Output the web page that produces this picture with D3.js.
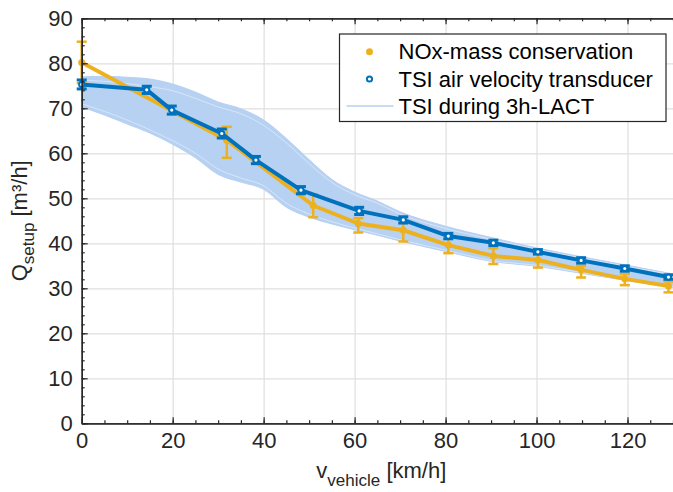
<!DOCTYPE html>
<html>
<head>
<meta charset="utf-8">
<script src="https://cdn.jsdelivr.net/npm/d3@7"></script>
<style>
  body { margin: 0; background: #fff; }
  svg { display: block; font-family: "Liberation Sans", Arial, sans-serif; }
  .axis path, .axis line { stroke: #262626; }
  .axis text { fill: #262626; font-size: 22px; }
  .grid line { stroke: #dfdfdf; stroke-width: 1.2; }
  .grid path { display: none; }
</style>
</head>
<body>
<div class="chart"></div>
<script>
// data
var nox_v  = [0, 31.9, 50.9, 60.8, 70.7, 80.6, 90.5, 100.3, 109.8, 119.4, 129];
var nox_q  = [80.2, 62.9, 48.4, 44.4, 42.9, 39.6, 37.2, 36.3, 34.1, 32.1, 30.5];
var nox_lo = [75.6, 59.0, 45.8, 42.4, 40.4, 37.8, 35.4, 34.6, 32.4, 30.7, 29.1];
var nox_hi = [84.8, 65.9, 50.9, 45.6, 44.9, 41.2, 38.9, 37.8, 35.0, 33.2, 31.5];

var tsi_v   = [0, 14.3, 19.8, 30.8, 38.3, 48.2, 61.0, 70.7, 80.6, 90.5, 100.3, 109.8, 119.4, 129];
var tsi_q   = [75.3, 74.1, 69.6, 64.4, 58.5, 51.8, 47.2, 45.2, 41.6, 40.1, 38.1, 36.2, 34.4, 32.5];
var tsi_err = [1.0, 0.8, 0.9, 1.0, 0.8, 0.8, 0.8, 0.7, 0.6, 0.6, 0.5, 0.6, 0.6, 0.5];

// envelope of the 3h-LACT runs
var band_v    = [0, 5, 10, 15, 20, 25, 30, 35, 40, 45, 50, 55, 60, 65, 70, 80, 90, 100, 110, 120, 130];
var band_high = [77.0, 77.1, 76.9, 76.5, 75.4, 73.6, 71.4, 69.9, 67.4, 63.3, 58.6, 54.2, 51.4, 49.4, 47.0, 43.8, 41.3, 39.0, 37.0, 35.1, 33.2];
var band_low  = [70.3, 68.5, 66.5, 64.5, 62.0, 59.0, 55.3, 53.6, 52.0, 48.0, 45.8, 44.3, 43.0, 41.8, 40.5, 38.2, 36.0, 34.9, 33.3, 31.7, 30.2];
// a few single runs that stand out inside the band
var run1 = [71.0, 69.3, 67.4, 65.2, 62.8, 60.0, 56.5, 54.5, 52.8, 48.9, 46.5, 44.8, 43.4, 42.1, 40.8, 38.5, 36.2, 35.1, 33.5, 31.9, 30.4];
var run2 = [76.2, 76.0, 75.5, 74.8, 73.9, 72.2, 70.3, 68.8, 66.2, 62.3, 57.7, 53.5, 50.8, 48.9, 46.5, 43.3, 40.9, 38.7, 36.7, 34.8, 33.0];

var xTicks = [0, 20, 40, 60, 80, 100, 120];
var yTicks = [0, 10, 20, 30, 40, 50, 60, 70, 80, 90];

var legendLabels = ["NOx-mass conservation", "TSI air velocity transducer", "TSI during 3h-LACT"];

var svgWidth = 673;
var svgHeight = 492;
var margin = { top: 18.3, right: 0, bottom: 68.7, left: 81.7 };
var width = svgWidth - margin.left - margin.right;
var height = svgHeight - margin.top - margin.bottom;

var orange = "#EDB120";
var blue = "#0072BD";
var light = "#b7d1f2";

var svg = d3.select(".chart").append("svg")
  .attr("width", svgWidth)
  .attr("height", svgHeight);

var chart = svg.append("g")
  .attr("transform", "translate(" + margin.left + "," + margin.top + ")");

var x = d3.scaleLinear().domain([0, 130]).range([0, width]);
var y = d3.scaleLinear().domain([0, 90]).range([height, 0]);

// grid
chart.append("g").attr("class", "grid")
  .attr("transform", "translate(0," + height + ")")
  .call(d3.axisBottom(x).tickValues(xTicks).tickSize(-height).tickFormat(""));
chart.append("g").attr("class", "grid")
  .call(d3.axisLeft(y).tickValues(yTicks).tickSize(-width).tickFormat(""));

// band of runs
var area = d3.area()
  .x(function(d, i) { return x(band_v[i]); })
  .y0(function(d, i) { return y(band_low[i]); })
  .y1(function(d, i) { return y(band_high[i]); })
  .curve(d3.curveMonotoneX);
chart.append("path").datum(band_v)
  .attr("d", area)
  .attr("fill", light)
  .attr("stroke", light)
  .attr("stroke-width", 1);

var runLine = d3.line()
  .x(function(d, i) { return x(band_v[i]); })
  .y(function(d) { return y(d); })
  .curve(d3.curveMonotoneX);
[run1, run2].forEach(function(r) {
  chart.append("path").datum(r)
    .attr("d", runLine)
    .attr("fill", "none")
    .attr("stroke", "#ffffff")
    .attr("stroke-opacity", 0.55)
    .attr("stroke-width", 0.8);
});

// NOx-mass conservation
var noxLine = d3.line()
  .x(function(d, i) { return x(nox_v[i]); })
  .y(function(d) { return y(d); });
chart.append("path").datum(nox_q)
  .attr("d", noxLine)
  .attr("fill", "none")
  .attr("stroke", orange)
  .attr("stroke-width", 4)
  .attr("stroke-linejoin", "round");

var noxErr = chart.append("g").attr("stroke", orange).attr("stroke-width", 2.5);
nox_v.forEach(function(v, i) {
  var cx = x(v);
  noxErr.append("line").attr("x1", cx).attr("x2", cx).attr("y1", y(nox_lo[i])).attr("y2", y(nox_hi[i]));
  noxErr.append("line").attr("x1", cx - 5).attr("x2", cx + 5).attr("y1", y(nox_lo[i])).attr("y2", y(nox_lo[i]));
  noxErr.append("line").attr("x1", cx - 5).attr("x2", cx + 5).attr("y1", y(nox_hi[i])).attr("y2", y(nox_hi[i]));
});
chart.append("g").selectAll("circle")
  .data(nox_q).enter().append("circle")
  .attr("cx", function(d, i) { return x(nox_v[i]); })
  .attr("cy", function(d) { return y(d); })
  .attr("r", 3.5)
  .attr("fill", orange);

// TSI air velocity transducer
var tsiLine = d3.line()
  .x(function(d, i) { return x(tsi_v[i]); })
  .y(function(d) { return y(d); });
chart.append("path").datum(tsi_q)
  .attr("d", tsiLine)
  .attr("fill", "none")
  .attr("stroke", blue)
  .attr("stroke-width", 4)
  .attr("stroke-linejoin", "round");

var tsiErr = chart.append("g").attr("stroke", blue).attr("stroke-width", 3);
tsi_v.forEach(function(v, i) {
  var cx = x(v);
  var lo = y(tsi_q[i] - tsi_err[i]);
  var hi = y(tsi_q[i] + tsi_err[i]);
  tsiErr.append("line").attr("x1", cx).attr("x2", cx).attr("y1", lo).attr("y2", hi);
  tsiErr.append("line").attr("x1", cx - 5).attr("x2", cx + 5).attr("y1", lo).attr("y2", lo);
  tsiErr.append("line").attr("x1", cx - 5).attr("x2", cx + 5).attr("y1", hi).attr("y2", hi);
});
chart.append("g").selectAll("circle")
  .data(tsi_q).enter().append("circle")
  .attr("cx", function(d, i) { return x(tsi_v[i]); })
  .attr("cy", function(d) { return y(d); })
  .attr("r", 2.6)
  .attr("fill", "#ffffff")
  .attr("stroke", blue)
  .attr("stroke-width", 2);

// axes, ticks pointing inwards
var xMinor = d3.range(0, 131, 5);
var yMinor = d3.range(0, 91, 2);

chart.append("g").attr("class", "axis")
  .attr("transform", "translate(0," + height + ")")
  .call(d3.axisBottom(x).tickValues(xTicks).tickSize(-6).tickSizeOuter(0).tickPadding(9));
chart.append("g").attr("class", "axis minor")
  .attr("transform", "translate(0," + height + ")")
  .call(d3.axisBottom(x).tickValues(xMinor).tickSize(-3).tickSizeOuter(0).tickFormat(""));
chart.append("g").attr("class", "axis")
  .call(d3.axisTop(x).tickValues(xTicks).tickSize(-6).tickSizeOuter(0).tickFormat(""));
chart.append("g").attr("class", "axis minor")
  .call(d3.axisTop(x).tickValues(xMinor).tickSize(-3).tickSizeOuter(0).tickFormat(""));

chart.append("g").attr("class", "axis")
  .call(d3.axisLeft(y).tickValues(yTicks).tickSize(-6).tickSizeOuter(0).tickPadding(9));
chart.append("g").attr("class", "axis minor")
  .call(d3.axisLeft(y).tickValues(yMinor).tickSize(-3).tickSizeOuter(0).tickFormat(""));

chart.selectAll(".axis path").attr("stroke-width", 1.3);
chart.selectAll(".axis line").attr("stroke-width", 1.2);

// axis labels
chart.append("text")
  .attr("transform", "translate(" + (27 - margin.left) + "," + (height / 2) + ") rotate(-90)")
  .attr("text-anchor", "middle")
  .attr("fill", "#262626")
  .style("font-size", "22px")
  .html('Q<tspan dy="7" font-size="17px">setup</tspan><tspan dy="-7"> [m³/h]</tspan>');

chart.append("text")
  .attr("x", width / 2 + 4)
  .attr("y", height + 55)
  .attr("text-anchor", "middle")
  .attr("fill", "#262626")
  .style("font-size", "22px")
  .html('v<tspan dy="8" font-size="17px">vehicle</tspan><tspan dy="-8"> [km/h]</tspan>');

// legend
var legend = svg.append("g").attr("transform", "translate(339.5,34)");
legend.append("rect")
  .attr("width", 326.5)
  .attr("height", 87.5)
  .attr("fill", "#ffffff")
  .attr("stroke", "#262626")
  .attr("stroke-width", 1.2);

var rowY = [17.7, 45, 72];
legend.append("circle").attr("cx", 30).attr("cy", rowY[0]).attr("r", 3.5).attr("fill", orange);
legend.append("circle").attr("cx", 30).attr("cy", rowY[1]).attr("r", 2.6)
  .attr("fill", "#ffffff").attr("stroke", blue).attr("stroke-width", 2);
legend.append("line").attr("x1", 7).attr("x2", 54).attr("y1", rowY[2]).attr("y2", rowY[2])
  .attr("stroke", light).attr("stroke-width", 1.5);

legend.selectAll("text.lg")
  .data(legendLabels).enter().append("text")
  .attr("class", "lg")
  .attr("x", 59)
  .attr("y", function(d, i) { return rowY[i]; })
  .attr("dy", "0.35em")
  .attr("fill", "#000")
  .style("font-size", "22px")
  .text(function(d) { return d; });
</script>
</body>
</html>
